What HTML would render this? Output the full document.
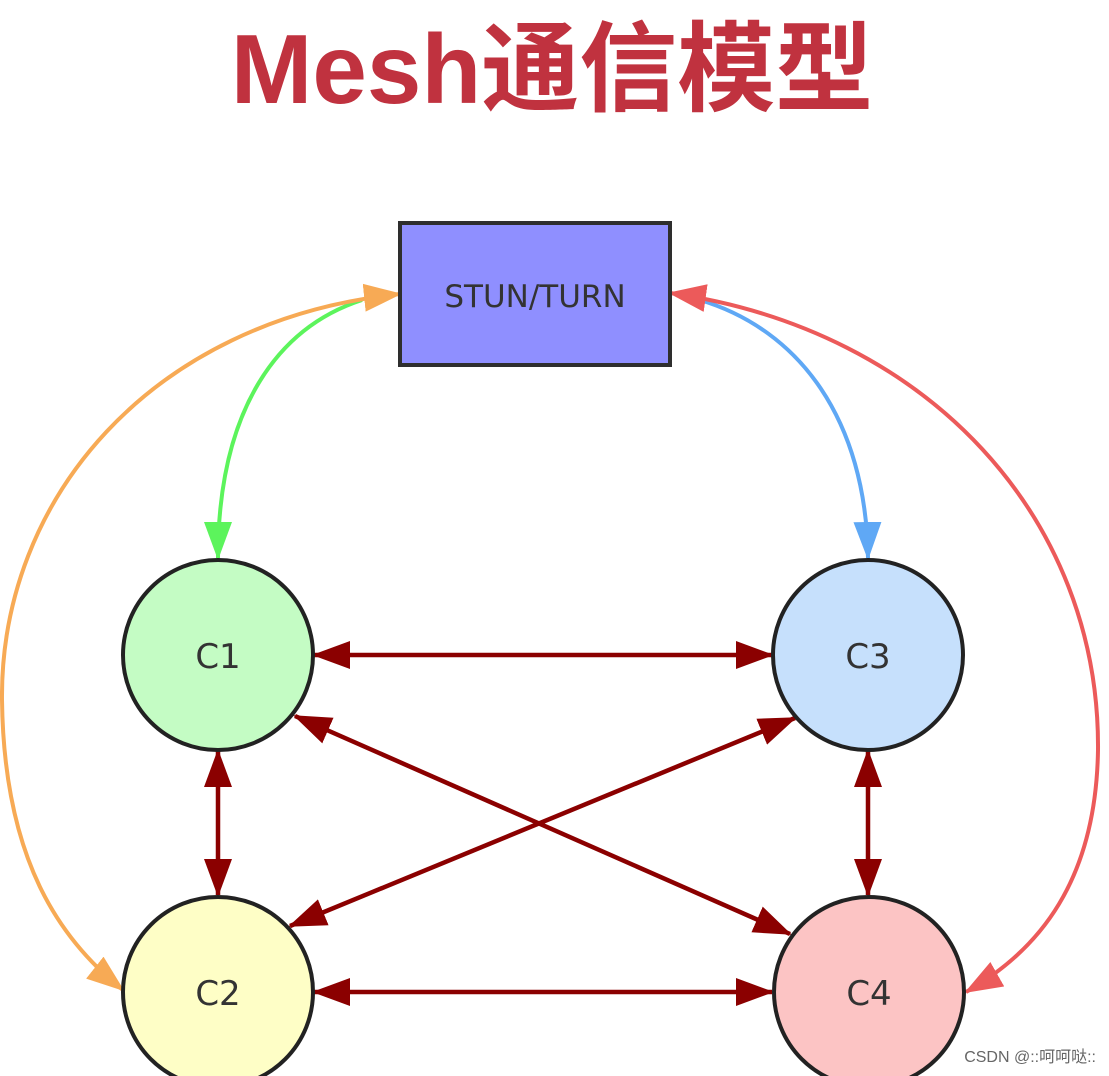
<!DOCTYPE html>
<html><head><meta charset="utf-8"><style>
html,body{margin:0;padding:0;background:#fff;width:1109px;height:1076px;overflow:hidden}
</style></head><body>
<svg width="1109" height="1076" viewBox="0 0 1109 1076" xmlns="http://www.w3.org/2000/svg">
<defs>
<marker id="dr" markerUnits="userSpaceOnUse" markerWidth="40" markerHeight="30" refX="36" refY="14" orient="auto-start-reverse"><path d="M0,0 L38,14 L0,28 Z" fill="#8b0000"/></marker>
<marker id="gr" markerUnits="userSpaceOnUse" markerWidth="40" markerHeight="30" refX="36" refY="14" orient="auto"><path d="M0,0 L38,14 L0,28 Z" fill="#5cf45c"/></marker>
<marker id="bl" markerUnits="userSpaceOnUse" markerWidth="40" markerHeight="30" refX="36" refY="14" orient="auto"><path d="M0,0 L38,14 L0,28 Z" fill="#5fa8f5"/></marker>
<marker id="or" markerUnits="userSpaceOnUse" markerWidth="40" markerHeight="30" refX="36" refY="14" orient="auto-start-reverse"><path d="M0,0 L38,14 L0,28 Z" fill="#f7aa55"/></marker>
<marker id="rd" markerUnits="userSpaceOnUse" markerWidth="40" markerHeight="30" refX="36" refY="14" orient="auto-start-reverse"><path d="M0,0 L38,14 L0,28 Z" fill="#ec5a5a"/></marker>
</defs>
<text x="552" y="103" text-anchor="middle" font-family="'Liberation Sans','Noto Sans CJK SC',sans-serif" font-weight="bold" font-size="98" fill="#c0323f">Mesh通信模型</text>

<path d="M362,300 C270,330 218,420 218,558" fill="none" stroke="#5cf45c" stroke-width="4" marker-end="url(#gr)"/>
<path d="M700,300 C800,330 866,420 868,558" fill="none" stroke="#5fa8f5" stroke-width="4" marker-end="url(#bl)"/>
<path d="M400,294 C150,320 0,500 2,700 C4,860 60,940 123,990" fill="none" stroke="#f7aa55" stroke-width="4" marker-start="url(#or)" marker-end="url(#or)"/>
<path d="M670,293 C930,330 1100,520 1098,750 C1096,880 1040,950 966,992" fill="none" stroke="#ec5a5a" stroke-width="4" marker-start="url(#rd)" marker-end="url(#rd)"/>

<g stroke="#8b0000" stroke-width="4.5" fill="none" marker-start="url(#dr)" marker-end="url(#dr)">
<line x1="314" y1="655" x2="772" y2="655"/>
<line x1="314" y1="992" x2="772" y2="992"/>
<line x1="218" y1="751" x2="218" y2="895"/>
<line x1="868" y1="751" x2="868" y2="895"/>
<line x1="295" y1="716" x2="790" y2="934"/>
<line x1="795" y1="718" x2="290" y2="926"/>
</g>

<rect x="400" y="223" width="270" height="142" fill="#8f8fff" stroke="#2e2e2e" stroke-width="4"/>
<text x="535" y="307" text-anchor="middle" font-family="'DejaVu Sans',sans-serif" font-size="31" fill="#333">STUN/TURN</text>

<g stroke="#222" stroke-width="4">
<circle cx="218" cy="655" r="95" fill="#c4fcc4"/>
<circle cx="868" cy="655" r="95" fill="#c6e0fc"/>
<circle cx="218" cy="992" r="95" fill="#fefec6"/>
<circle cx="869" cy="992" r="95" fill="#fcc4c4"/>
</g>
<g font-family="'DejaVu Sans',sans-serif" font-size="34" fill="#333" text-anchor="middle">
<text x="218" y="668">C1</text>
<text x="868" y="668">C3</text>
<text x="218" y="1005">C2</text>
<text x="869" y="1005">C4</text>
</g>
<text x="1096" y="1062" text-anchor="end" font-family="'Liberation Sans','Noto Sans CJK SC',sans-serif" font-size="16" fill="#666">CSDN @::呵呵哒::</text>
</svg>
</body></html>
